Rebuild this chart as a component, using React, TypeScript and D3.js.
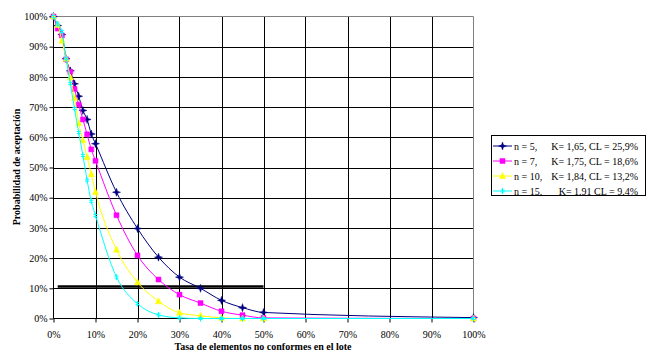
import { useEffect, useRef } from 'react';
import * as d3 from 'd3';

// Tasa de elementos no conformes (%)
const tasa = [0, 1, 2, 3, 4, 5, 6, 7, 8, 9, 10, 15, 20, 25, 30, 35, 40, 45, 50, 100];

// Probabilidad de aceptación (%) por tamaño de muestra
const n5 = [100, 97, 94, 86, 82, 77.7, 73.6, 68.9, 65.9, 61.1, 57.9, 41.8, 29.8, 20.3, 13.7, 10, 6, 3.6, 2, 0.3];
const n7 = [100, 96, 93.7, 85.8, 81.7, 76, 70.8, 65.9, 61, 56, 52.2, 34.2, 20.9, 12.9, 7.9, 5.1, 2.4, 1.1, 0.2, 0];
const n10 = [100, 97.2, 92, 86, 79.8, 73, 64.7, 59, 53.5, 47.8, 41.9, 22.8, 12, 5.7, 1.9, 0.9, 0.2, 0, 0, 0];
const n15 = [100, 97.5, 95, 86, 77.8, 69.5, 61.6, 54, 45.8, 38.8, 34.1, 13.7, 4.9, 1.2, 0.2, 0, 0, 0, 0, 0];

const seriesNames = ['n = 5,', 'n = 7,', 'n = 10,', 'n = 15.'];
const seriesParams = ['K= 1,65, CL = 25,9%', 'K= 1,75, CL = 18,6%', 'K= 1,84, CL = 13,2%', 'K= 1.91 CL = 9.4%'];
const seriesColors = ['#000080', '#ff00ff', '#ffff00', '#00ffff'];

// línea de riesgo del consumidor
const riesgoX = [1, 50];
const riesgoY = 10.6;

const yTicks = [0, 10, 20, 30, 40, 50, 60, 70, 80, 90, 100];
const xTicks = [0, 10, 20, 30, 40, 50, 60, 70, 80, 90, 100];

const markerPaths = [
  'M0,-4L1,-1L4,0L1,1L0,4L-1,1L-4,0L-1,-1Z',
  'M-2.5,-2.5H2.5V2.5H-2.5Z',
  'M0,-3.5L3,2.5H-3Z',
  'M-2,-1H2M-2,1H2M0,-3V3',
];

const App = () => {
  const svgRef = useRef<SVGSVGElement>(null);

  useEffect(() => {
    if (!svgRef.current) return;
    const svg = d3.select(svgRef.current);
    svg.selectAll('*').remove();

    const x = d3.scaleLinear().domain([0, 100]).range([53.5, 473.5]);
    const y = d3.scaleLinear().domain([0, 100]).range([318.5, 16.5]);
    const font = '"Liberation Serif", "Times New Roman", serif';

    svg.append('rect').attr('width', 652).attr('height', 364).attr('fill', '#fff');

    // Grid
    const grid = svg.append('g');
    grid.selectAll('line.h')
      .data(yTicks.slice(1, -1))
      .join('line')
      .attr('x1', x(0)).attr('x2', x(100))
      .attr('y1', d => Math.round(y(d)) + 0.5).attr('y2', d => Math.round(y(d)) + 0.5)
      .attr('stroke', '#000');
    grid.selectAll('line.v')
      .data(xTicks.slice(1, -1))
      .join('line')
      .attr('y1', y(0)).attr('y2', y(100))
      .attr('x1', d => Math.round(x(d)) + 0.5).attr('x2', d => Math.round(x(d)) + 0.5)
      .attr('stroke', '#000');
    // top / right border gray
    grid.append('path')
      .attr('d', `M${x(0)},${y(100)}H${x(100)}V${y(0)}`)
      .attr('fill', 'none').attr('stroke', '#808080');

    // Axes
    svg.append('g')
      .attr('transform', `translate(0,${y(0)})`)
      .call(d3.axisBottom(x).tickValues(xTicks).tickSize(4).tickFormat(d => `${d}%`))
      .call(g => g.selectAll('.tick text').attr('font-family', font).attr('font-size', 10).attr('fill', '#000').attr('dy', '1.2em'))
      .call(g => g.selectAll('.tick line').attr('stroke', '#000'))
      .call(g => g.select('.domain').attr('stroke', '#000').attr('d', `M${x(0)},0H${x(100)}`));

    svg.append('g')
      .attr('transform', `translate(${x(0)},0)`)
      .call(d3.axisLeft(y).tickValues(yTicks).tickSize(4).tickFormat(d => `${d}%`))
      .call(g => g.selectAll('.tick text').attr('font-family', font).attr('font-size', 10).attr('fill', '#000').attr('x', -6))
      .call(g => g.selectAll('.tick line').attr('stroke', '#000'))
      .call(g => g.select('.domain').attr('stroke', '#000').attr('d', `M0,${y(0)}V${y(100)}`));

    // Risk line
    svg.append('line')
      .attr('x1', x(riesgoX[0])).attr('x2', x(riesgoX[1]))
      .attr('y1', y(riesgoY)).attr('y2', y(riesgoY))
      .attr('stroke', '#000').attr('stroke-width', 2.5);

    // Series
    const allSeries = [n5, n7, n10, n15];
    const line = d3.line<number>()
      .x((_, i) => x(tasa[i]))
      .y(d => y(d))
      .curve(d3.curveMonotoneX);

    allSeries.forEach((vals, si) => {
      const color = seriesColors[si];
      svg.append('path')
        .datum(vals)
        .attr('d', line)
        .attr('fill', 'none')
        .attr('stroke', color)
        .attr('stroke-width', 1);
      svg.append('g')
        .selectAll('path')
        .data(vals)
        .join('path')
        .attr('transform', (d, i) => `translate(${x(tasa[i])},${y(d)})`)
        .attr('d', markerPaths[si])
        .attr('fill', si === 3 ? 'none' : color)
        .attr('stroke', color)
        .attr('stroke-width', si === 3 ? 1 : 0.5);
    });

    // Axis titles
    svg.append('text')
      .attr('x', 263).attr('y', 350)
      .attr('text-anchor', 'middle')
      .attr('font-family', font).attr('font-size', 10).attr('font-weight', 'bold')
      .text('Tasa de elementos no conformes en el lote');
    svg.append('text')
      .attr('transform', 'translate(20,167) rotate(-90)')
      .attr('text-anchor', 'middle')
      .attr('font-family', font).attr('font-size', 10).attr('font-weight', 'bold')
      .text('Probabilidad de aceptación');

    // Legend
    const legend = svg.append('g');
    legend.append('rect')
      .attr('x', 491.5).attr('y', 135.5).attr('width', 154).attr('height', 60)
      .attr('fill', '#fff').attr('stroke', '#000');
    seriesNames.forEach((name, i) => {
      const ly = 146 + i * 15;
      const color = seriesColors[i];
      legend.append('line')
        .attr('x1', 493).attr('x2', 512).attr('y1', ly).attr('y2', ly)
        .attr('stroke', color);
      legend.append('path')
        .attr('transform', `translate(502.5,${ly})`)
        .attr('d', markerPaths[i])
        .attr('fill', i === 3 ? 'none' : color)
        .attr('stroke', color)
        .attr('stroke-width', i === 3 ? 1 : 0.5);
      legend.append('text')
        .attr('x', 514).attr('y', ly + 3.5)
        .attr('font-family', font).attr('font-size', 10)
        .text(name);
      legend.append('text')
        .attr('x', 638).attr('y', ly + 3.5)
        .attr('text-anchor', 'end')
        .attr('font-family', font).attr('font-size', 10)
        .text(seriesParams[i]);
    });
  }, []);

  return (
    <div style={{ position: 'absolute', left: 0, top: 0 }}>
      <svg ref={svgRef} width={652} height={364} style={{ display: 'block' }} />
    </div>
  );
};

export default App;
